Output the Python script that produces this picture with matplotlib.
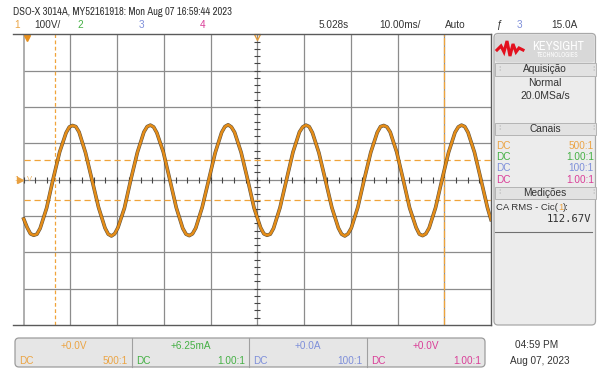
import matplotlib.pyplot as plt
import numpy as np
from matplotlib.patches import FancyBboxPatch, Rectangle

plt.rcParams['font.family'] = ['Liberation Sans', 'DejaVu Sans']
NARROW = ['Archivo Narrow', 'DejaVu Sans']

# channel 1 trace (ms from screen centre, volts)
wave_t = [-50.00, -49.25, -48.55, -47.86, -47.17, -46.48, -45.09, -43.70,
          -42.31, -40.93, -40.23, -39.54, -38.85, -38.15, -36.77, -35.38,
          -33.99, -32.60, -31.91, -31.22, -30.53, -29.83, -28.44, -27.06,
          -25.67, -24.28, -23.58, -22.89, -22.20, -21.51, -20.12, -18.73,
          -17.35, -15.96, -15.26, -14.57, -13.88, -13.18, -11.80, -10.41,
          -9.02, -7.64, -6.94, -6.25, -5.56, -4.86, -3.47, -2.09,
          -0.70, 0.69, 1.39, 2.08, 2.77, 3.46, 4.85, 6.24,
          7.63, 9.01, 9.71, 10.40, 11.09, 11.79, 13.17, 14.56,
          15.95, 17.34, 18.03, 18.72, 19.41, 20.11, 21.50, 22.88,
          24.27, 25.66, 26.36, 27.05, 27.74, 28.43, 29.82, 31.21,
          32.59, 33.98, 34.68, 35.37, 36.06, 36.76, 38.14, 39.53,
          40.92, 42.30, 43.00, 43.69, 44.38, 45.08, 46.47, 47.85,
          49.24, 50.00]
wave_v = [-108, -132, -149, -153, -150, -134, -78, 2,
          76, 129, 145, 149, 146, 131, 74, -1,
          -76, -133, -150, -155, -149, -132, -78, 1,
          75, 131, 146, 150, 145, 129, 76, 0,
          -77, -134, -150, -154, -149, -133, -76, -1,
          74, 130, 146, 151, 145, 130, 75, 1,
          -78, -132, -149, -153, -150, -134, -77, 0,
          76, 131, 145, 150, 146, 129, 74, -1,
          -77, -133, -150, -155, -149, -133, -76, 1,
          75, 130, 146, 149, 145, 131, 76, 0,
          -78, -132, -150, -154, -149, -133, -77, 1,
          75, 130, 145, 150, 146, 130, 75, 0,
          -77, -110]

cursor_v = [55, -57]
cursor_t = [-43.2, 39.9]

header = 'DSO-X 3014A, MY52161918: Mon Aug 07 16:59:44 2023'
ch_colors = ['#EBA444', '#45B045', '#7E8FDA', '#DA3F98']
ch_offsets = ['+0.0V', '+6.25mA', '+0.0A', '+0.0V']
ch_probe = ['500:1', '1.00:1', '100:1', '1.00:1']
meas_label = 'CA RMS - Cic('
meas_value = '112.67V'
logo_x = [497, 501, 504, 507, 510, 513, 516, 519, 523]
logo_y = [50, 46, 52, 41, 56, 44, 52, 48, 50]

W, H = 598, 371
fig = plt.figure(figsize=(W / 100, H / 100), dpi=100)

# overlay in pixel coordinates for the scope furniture
ov = fig.add_axes([0, 0, 1, 1], zorder=0)
ov.set_xlim(0, W)
ov.set_ylim(H, 0)
ov.axis('off')


def put(x, y, s, color='#333333', size=7.2, ha='left', **kw):
    return ov.text(x, y, s, color=color, fontsize=size, ha=ha, va='center', **kw)


# top status lines
put(13, 12, header, size=7.6, family=NARROW)
put(14, 25, '1', ch_colors[0])
put(34, 25, '100V/')
put(77, 25, '2', ch_colors[1])
put(139, 25, '3', ch_colors[2])
put(200, 25, '4', ch_colors[3])
put(319, 25, '5.028s')
put(379, 25, '10.00ms/')
put(445, 25, 'Auto')
put(496, 25, 'ƒ')
put(517, 25, '3', ch_colors[2])
put(551, 25, '15.0A')

# right side panel
ov.add_patch(FancyBboxPatch((494, 33.5), 101.5, 291.5, boxstyle='round,pad=0,rounding_size=4',
                            fc='#ECECEC', ec='#A8A8A8', lw=0.9))
ov.add_patch(FancyBboxPatch((495, 34.5), 99.5, 28, boxstyle='round,pad=0,rounding_size=3',
                            fc='#D8D8D8', ec='none'))
ov.plot(logo_x, logo_y, color='#E3101E', lw=2.2, solid_joinstyle='miter')
put(558, 46, 'KEYSIGHT', 'white', 9, ha='center', fontweight='bold', family=NARROW)
put(558, 55, 'TECHNOLOGIES', 'white', 4.6, ha='center', family=NARROW)

for y0, y1, title in [(63, 75.5, 'Aquisição'), (122.5, 134.5, 'Canais'), (186.5, 198.5, 'Medições')]:
    ov.add_patch(Rectangle((494.5, y0), 101, y1 - y0, fc='#E2E2E2', ec='#B4B4B4', lw=0.7))
    put(545, (y0 + y1) / 2, title, size=7.3, ha='center')
    put(498, (y0 + y1) / 2, '⁞', '#B0B0B0', 6)
    put(592, (y0 + y1) / 2, '⁞', '#B0B0B0', 6)

put(545, 83.5, 'Normal', size=7.5, ha='center')
put(545, 96, '20.0MSa/s', size=7.5, ha='center')
for i, c in enumerate(ch_colors):
    put(496, 146 + i * 11.2, 'DC', c)
    put(594, 146 + i * 11.2, ch_probe[i], c, ha='right')

t1 = put(496, 207, meas_label, size=6.8)
t2 = ov.annotate('1', xy=(1, 0), xycoords=t1, va='bottom', ha='left', color=ch_colors[0], fontsize=6.8)
ov.annotate('):', xy=(1, 0), xycoords=t2, va='bottom', ha='left', color='#333333', fontsize=6.8)
put(591, 219.5, meas_value, size=7.6, ha='right', family=['DejaVu Sans Mono'])
ov.plot([495, 592], [232, 232], color='#707070', lw=0.8)

# bottom channel strip
ov.add_patch(FancyBboxPatch((15, 338), 470, 29, boxstyle='round,pad=0,rounding_size=4',
                            fc='#E6E6E6', ec='#9C9C9C', lw=0.9))
edges = [15, 131.7, 249.3, 366.7, 485]
for i, c in enumerate(ch_colors):
    if i:
        ov.plot([edges[i], edges[i]], [338, 367], color='#A0A0A0', lw=0.8)
    put((edges[i] + edges[i + 1]) / 2, 346, ch_offsets[i], c, ha='center')
    put(edges[i] + 4, 360.5, 'DC', c)
    put(edges[i + 1] - 4, 360.5, ch_probe[i], c, ha='right')

put(537, 345, '04:59 PM', ha='center')
put(540, 360.5, 'Aug 07, 2023', ha='center')

# graticule
x_left = -50 - (23.7 - 13) / 4.673
ax = fig.add_axes([13 / W, (H - 325) / H, (491 - 13) / W, (325 - 34.3) / H], zorder=2)
ax.set_xlim(x_left, 50)
ax.set_ylim(-400, 400)
ax.set_xticks([])
ax.set_yticks([])
ax.spines['left'].set_visible(False)
for s in ['top', 'bottom', 'right']:
    ax.spines[s].set_color('#5A5A5A')
    ax.spines[s].set_linewidth(1.0)

grid_c = '#8C8C8C'
ax.axvline(-50, color='#A8A8A8', lw=1.3)
for gx in range(-40, 50, 10):
    ax.axvline(gx, color=grid_c, lw=0.9)
for gy in range(-300, 400, 100):
    ax.hlines(gy, -50, 50, color=grid_c, lw=0.9)

tx = np.arange(-50, 50.1, 2.5)
ax.plot(tx, np.zeros_like(tx), ls='none', marker='|', ms=4, mew=0.8, color='#444444')
ty = np.arange(-400, 400.1, 20)
ax.plot(np.zeros_like(ty), ty, ls='none', marker='_', ms=4, mew=0.8, color='#444444')

# cursors
for cv in cursor_v:
    ax.hlines(cv, -50, 50, color='#F0A43A', lw=0.9, linestyles=(0, (5, 3)))
ax.axvline(cursor_t[0], color='#F0A43A', lw=0.9, ls=(0, (3, 2)))
ax.axvline(cursor_t[1], color='#F0A43A', lw=0.9, ls=(0, (6, 1)))

# trace: noisy dark envelope under the orange line
ax.plot(wave_t, wave_v, color='#3A2A10', lw=2.6, alpha=0.8, solid_joinstyle='round')
ax.plot(wave_t, wave_v, color='#E58D18', lw=1.8, solid_joinstyle='round')

# markers
ax.plot([0], [392], marker='v', ms=5, mfc='none', mec='#E89A30', mew=0.9, clip_on=False)
ax.plot([-49.4], [390], marker='v', ms=4.5, color='#E8901C', clip_on=False)
ax.text(-52.1, 0, '1', color='#E8A040', fontsize=6, va='center', ha='left')
ax.plot([-50.7], [0], marker='>', ms=4, color='#E8A040', clip_on=False)
ax.text(-49.3, 0, 'V', color='#E8B060', fontsize=5.5, va='center', ha='left')

fig.savefig('out.png', dpi=100, facecolor='white')
